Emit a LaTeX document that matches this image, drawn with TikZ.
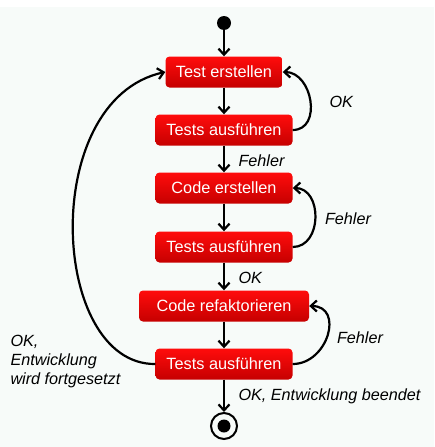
\documentclass[tikz,border=0pt]{standalone}
\usepackage{fontspec}
\setmainfont{Liberation Sans}
\usetikzlibrary{arrows.meta}
\definecolor{bg}{RGB}{247,251,249}
\definecolor{boxtop}{RGB}{255,12,12}
\definecolor{boxbottom}{RGB}{198,0,0}
\begin{document}
\begin{tikzpicture}[x=1pt,y=-1pt,
  stepbox/.style={rounded corners=4pt,top color=boxtop,bottom color=boxbottom,
    text=white,minimum height=31pt,minimum width=#1,inner sep=0pt,
    font=\fontsize{16.3}{18}\selectfont},
  lbl/.style={font=\fontsize{16.2}{19}\selectfont\itshape},
  flow/.style={line width=2.2pt,-{Straight Barb[length=6pt,width=11pt]}}]
  \fill[color=bg] (0,7) rectangle (434,447);
  \useasboundingbox (0,0) rectangle (434,447);
  \node[circle,fill,minimum size=14pt,inner sep=0pt] (start) at (224,23) {};
  \node[stepbox=117pt] (create) at (224,72) {Test erstellen};
  \node[stepbox=137pt] (run1) at (224,130) {Tests ausführen};
  \node[stepbox=137pt] (code) at (224,188) {Code erstellen};
  \node[stepbox=137pt] (run2) at (224,247) {Tests ausführen};
  \node[stepbox=170pt] (refactor) at (224,306) {Code refaktorieren};
  \node[stepbox=137pt] (run3) at (224,364) {Tests ausführen};
  \node[circle,draw,line width=2pt,minimum size=26pt,inner sep=0pt] (stop) at (224,426) {};
  \node[circle,fill,minimum size=13pt,inner sep=0pt] (stopdot) at (stop) {};
  \draw[flow] (start) -- (create);
  \draw[flow] (create) -- (run1);
  \draw[flow] (run1) -- (code);
  \draw[flow] (code) -- (run2);
  \draw[flow] (run2) -- (refactor);
  \draw[flow] (refactor) -- (run3);
  \draw[flow] (run3) -- (stop);
  \draw[flow] (run1.east) to[out=0,in=0,looseness=1.3] (create.east);
  \draw[flow] (run2.east) to[out=0,in=0,looseness=1.3] (code.east);
  \draw[flow] (run3.east) to[out=0,in=0,looseness=1.5] (refactor.east);
  \draw[flow] (run3.west) .. controls (50,365) and (38,100) .. (create.west);
  \node[lbl,anchor=west] (okloop) at (326,102) {OK};
  \node[lbl] (errloop2) at (348,219) {Fehler};
  \node[lbl] (errloop3) at (360,338) {Fehler};
  \node[lbl,anchor=west] (errcode) at (235,161) {Fehler};
  \node[lbl,anchor=west] (okrefactor) at (235,278) {OK};
  \node[lbl,anchor=west] (okend) at (235,396) {OK, Entwicklung beendet};
  \node[lbl,anchor=west,align=left] (okcont) at (7,362)
    {OK,\\Entwicklung\\wird fortgesetzt};
\end{tikzpicture}
\end{document}
